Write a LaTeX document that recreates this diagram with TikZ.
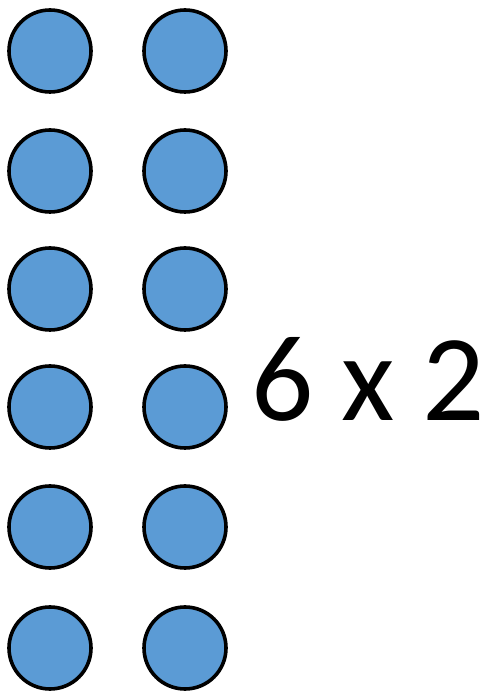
\documentclass[tikz,border=0pt]{standalone}
\usepackage{fontspec}
\newfontfamily\calib{Carlito}
\definecolor{dotblue}{HTML}{5B9BD5}
\tikzset{dot/.style={circle, draw=black, line width=3.6pt, fill=dotblue, minimum size=82pt, inner sep=0pt}}
\begin{document}
\begin{tikzpicture}[x=1pt, y=1pt, line cap=round, line join=round]
\useasboundingbox (0,0) rectangle (486,693);
\foreach \r/\y in {1/642, 2/522, 3/404, 4/286, 5/166, 6/45} {
  \node[dot] (a\r) at (50,\y) {};
  \node[dot] (b\r) at (185,\y) {};
}
\node[anchor=base west, inner sep=0pt, font=\calib\fontsize{123}{123}\selectfont] (lbl) at (251,272) {6 x 2};
\end{tikzpicture}
\end{document}
